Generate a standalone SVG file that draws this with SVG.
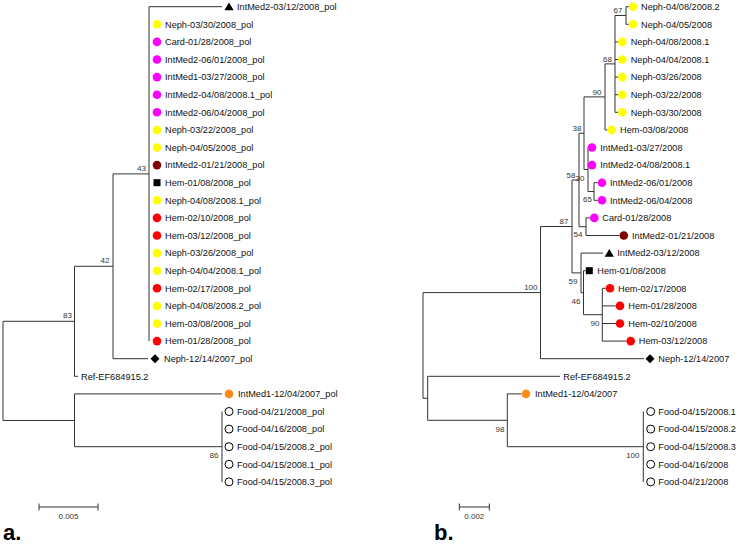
<svg xmlns="http://www.w3.org/2000/svg" width="739" height="544" viewBox="0 0 739 544">
<defs>
<style>
.br{stroke:#333;stroke-width:1;fill:none}
.lf{font-family:"Liberation Sans",Arial,sans-serif;font-size:9.2px;fill:#111}
.bs{font-family:"Liberation Sans",Arial,sans-serif;font-size:8px;fill:#333;text-anchor:end}
.sc{font-family:"Liberation Sans",Arial,sans-serif;font-size:8px;fill:#333;text-anchor:middle}
.pl{font-family:"Liberation Sans",Arial,sans-serif;font-size:22px;font-weight:bold;fill:#000}
.y{fill:#ffff00}.m{fill:#ff00ff}.r{fill:#ff0000}.dr{fill:#800000}.o{fill:#ff8c1a}
.w{fill:#fff;stroke:#000;stroke-width:1}.k{fill:#000}
</style>
</defs>
<rect width="739" height="544" fill="#fff"/>

<!-- ===== Tree a connectors ===== -->
<g id="connectors-a" class="br">
<path d="M3 321.3V420.5M3 321.3H74.5M3 420.5H74.5"/>
<path d="M74.5 266.3V376.3M74.5 266.3H113M74.5 376.3H78"/>
<path d="M113 173.9V358.7M113 173.9H149M113 358.7H148"/>
<path d="M149 6.7V341.1M149 6.7H222"/>
<path d="M74.5 393.9V446.7M74.5 393.9H222M74.5 446.7H222"/>
<path d="M222 411.5V481.9"/>
<path d="M39 507H98M39 503.5V510.5M98 503.5V510.5"/>
</g>

<!-- ===== Tree a internal nodes ===== -->
<g id="a-n43"><text class="bs" x="146" y="171">43</text></g>
<g id="a-n42"><text class="bs" x="109.5" y="263">42</text></g>
<g id="a-n83"><text class="bs" x="72" y="318">83</text></g>
<g id="a-n86"><text class="bs" x="218.5" y="458">86</text></g>

<!-- ===== Tree a leaves ===== -->
<g id="a-l01"><polygon class="k" points="229,2.5 233.6,10.3 224.4,10.3"/><text class="lf" x="237" y="10">IntMed2-03/12/2008_pol</text></g>
<g id="a-l02"><circle class="y" cx="157" cy="24.3" r="4.3"/><text class="lf" x="165" y="27.6">Neph-03/30/2008_pol</text></g>
<g id="a-l03"><circle class="m" cx="157" cy="41.9" r="4.3"/><text class="lf" x="165" y="45.2">Card-01/28/2008_pol</text></g>
<g id="a-l04"><circle class="m" cx="157" cy="59.5" r="4.3"/><text class="lf" x="165" y="62.8">IntMed2-06/01/2008_pol</text></g>
<g id="a-l05"><circle class="m" cx="157" cy="77.1" r="4.3"/><text class="lf" x="165" y="80.4">IntMed1-03/27/2008_pol</text></g>
<g id="a-l06"><circle class="m" cx="157" cy="94.7" r="4.3"/><text class="lf" x="165" y="98">IntMed2-04/08/2008.1_pol</text></g>
<g id="a-l07"><circle class="m" cx="157" cy="112.3" r="4.3"/><text class="lf" x="165" y="115.6">IntMed2-06/04/2008_pol</text></g>
<g id="a-l08"><circle class="y" cx="157" cy="129.9" r="4.3"/><text class="lf" x="165" y="133.2">Neph-03/22/2008_pol</text></g>
<g id="a-l09"><circle class="y" cx="157" cy="147.5" r="4.3"/><text class="lf" x="165" y="150.8">Neph-04/05/2008_pol</text></g>
<g id="a-l10"><circle class="dr" cx="157" cy="165.1" r="4.3"/><text class="lf" x="165" y="168.4">IntMed2-01/21/2008_pol</text></g>
<g id="a-l11"><rect class="k" x="153.5" y="179.2" width="7" height="7"/><text class="lf" x="165" y="186">Hem-01/08/2008_pol</text></g>
<g id="a-l12"><circle class="y" cx="157" cy="200.3" r="4.3"/><text class="lf" x="165" y="203.6">Neph-04/08/2008.1_pol</text></g>
<g id="a-l13"><circle class="r" cx="157" cy="217.9" r="4.3"/><text class="lf" x="165" y="221.2">Hem-02/10/2008_pol</text></g>
<g id="a-l14"><circle class="r" cx="157" cy="235.5" r="4.3"/><text class="lf" x="165" y="238.8">Hem-03/12/2008_pol</text></g>
<g id="a-l15"><circle class="y" cx="157" cy="253.1" r="4.3"/><text class="lf" x="165" y="256.4">Neph-03/26/2008_pol</text></g>
<g id="a-l16"><circle class="y" cx="157" cy="270.7" r="4.3"/><text class="lf" x="165" y="274">Neph-04/04/2008.1_pol</text></g>
<g id="a-l17"><circle class="r" cx="157" cy="288.3" r="4.3"/><text class="lf" x="165" y="291.6">Hem-02/17/2008_pol</text></g>
<g id="a-l18"><circle class="y" cx="157" cy="305.9" r="4.3"/><text class="lf" x="165" y="309.2">Neph-04/08/2008.2_pol</text></g>
<g id="a-l19"><circle class="y" cx="157" cy="323.5" r="4.3"/><text class="lf" x="165" y="326.8">Hem-03/08/2008_pol</text></g>
<g id="a-l20"><circle class="r" cx="157" cy="341.1" r="4.3"/><text class="lf" x="165" y="344.4">Hem-01/28/2008_pol</text></g>
<g id="a-l21"><polygon class="k" points="155,354.2 159.5,358.7 155,363.2 150.5,358.7"/><text class="lf" x="164" y="362">Neph-12/14/2007_pol</text></g>
<g id="a-l22"><text class="lf" x="81" y="379.6">Ref-EF684915.2</text></g>
<g id="a-l23"><circle class="o" cx="229" cy="393.9" r="4.3"/><text class="lf" x="238" y="397.2">IntMed1-12/04/2007_pol</text></g>
<g id="a-l24"><circle class="w" cx="229" cy="411.5" r="4"/><text class="lf" x="237" y="414.8">Food-04/21/2008_pol</text></g>
<g id="a-l25"><circle class="w" cx="229" cy="429.1" r="4"/><text class="lf" x="237" y="432.4">Food-04/16/2008_pol</text></g>
<g id="a-l26"><circle class="w" cx="229" cy="446.7" r="4"/><text class="lf" x="237" y="450">Food-04/15/2008.2_pol</text></g>
<g id="a-l27"><circle class="w" cx="229" cy="464.3" r="4"/><text class="lf" x="237" y="467.6">Food-04/15/2008.1_pol</text></g>
<g id="a-l28"><circle class="w" cx="229" cy="481.9" r="4"/><text class="lf" x="237" y="485.2">Food-04/15/2008.3_pol</text></g>
<g id="a-scale"><text class="sc" x="68.5" y="519">0.005</text></g>
<g id="a-label"><text class="pl" x="3" y="540">a.</text></g>

<!-- ===== Tree b connectors ===== -->
<g id="connectors-b" class="br">
<path d="M423 292.6V398.3M423 292.6H540.5M423 398.3H427.7"/>
<path d="M540.5 226.5V358.7M540.5 226.5H572M540.5 358.7H644"/>
<path d="M572 180V272.9M572 180H579M572 272.9H581"/>
<path d="M579 133.2V226.7M579 133.2H584M579 226.7H586"/>
<path d="M584 96.9V169.5M584 96.9H605M584 169.5H588"/>
<path d="M605 63.9V129.9M605 63.9H615M605 129.9H607.5"/>
<path d="M615 15.5V112.3M615 15.5H626M615 41.9H618M615 59.5H618M615 77.1H618M615 94.7H618M615 112.3H618"/>
<path d="M626 6.7V24.3M626 6.7H629M626 24.3H629"/>
<path d="M588 147.5V191.5M588 191.5H594"/>
<path d="M594 182.7V200.3M594 182.7H597.7M594 200.3H597.7"/>
<path d="M586 217.9V235.5M586 217.9H590M586 235.5H619.5"/>
<path d="M581 253.1V292.7M581 253.1H603M581 292.7H583.5"/>
<path d="M583.5 270.7V314.7M583.5 270.7H585.8M583.5 314.7H602.3"/>
<path d="M602.3 288.3V341.1M602.3 288.3H605.7M602.3 305.9H615.7M602.3 323.5H615.7M602.3 341.1H626.5"/>
<path d="M427.7 376.3V420.3M427.7 376.3H560M427.7 420.3H507.3"/>
<path d="M507.3 393.9V446.7M507.3 393.9H521.5M507.3 446.7H643.3"/>
<path d="M643.3 411.5V481.9"/>
<path d="M459.3 507H489.3M459.3 503.5V510.5M489.3 503.5V510.5"/>
</g>

<!-- ===== Tree b internal nodes ===== -->
<g id="b-n67"><text class="bs" x="622.5" y="13">67</text></g>
<g id="b-n68"><text class="bs" x="612" y="61.5">68</text></g>
<g id="b-n90a"><text class="bs" x="601.5" y="94.5">90</text></g>
<g id="b-n38"><text class="bs" x="581.5" y="130.5">38</text></g>
<g id="b-n58"><text class="bs" x="575.5" y="177.5">58</text></g>
<g id="b-n30"><text class="bs" x="584.5" y="180.5">30</text></g>
<g id="b-n65"><text class="bs" x="592" y="202">65</text></g>
<g id="b-n54"><text class="bs" x="582.5" y="237">54</text></g>
<g id="b-n87"><text class="bs" x="568.5" y="223.5">87</text></g>
<g id="b-n59"><text class="bs" x="577.5" y="284">59</text></g>
<g id="b-n46"><text class="bs" x="580.5" y="304">46</text></g>
<g id="b-n90b"><text class="bs" x="599.5" y="326">90</text></g>
<g id="b-n100a"><text class="bs" x="537.5" y="290">100</text></g>
<g id="b-n98"><text class="bs" x="504.5" y="432">98</text></g>
<g id="b-n100b"><text class="bs" x="639.5" y="458">100</text></g>

<!-- ===== Tree b leaves ===== -->
<g id="b-l01"><circle class="y" cx="633" cy="6.7" r="4.3"/><text class="lf" x="641" y="10">Neph-04/08/2008.2</text></g>
<g id="b-l02"><circle class="y" cx="633" cy="24.3" r="4.3"/><text class="lf" x="641" y="27.6">Neph-04/05/2008</text></g>
<g id="b-l03"><circle class="y" cx="622.3" cy="41.9" r="4.3"/><text class="lf" x="630.7" y="45.2">Neph-04/08/2008.1</text></g>
<g id="b-l04"><circle class="y" cx="622.3" cy="59.5" r="4.3"/><text class="lf" x="630.7" y="62.8">Neph-04/04/2008.1</text></g>
<g id="b-l05"><circle class="y" cx="622.3" cy="77.1" r="4.3"/><text class="lf" x="630.7" y="80.4">Neph-03/26/2008</text></g>
<g id="b-l06"><circle class="y" cx="622.3" cy="94.7" r="4.3"/><text class="lf" x="630.7" y="98">Neph-03/22/2008</text></g>
<g id="b-l07"><circle class="y" cx="622.3" cy="112.3" r="4.3"/><text class="lf" x="630.7" y="115.6">Neph-03/30/2008</text></g>
<g id="b-l08"><circle class="y" cx="611.7" cy="129.9" r="4.3"/><text class="lf" x="620" y="133.2">Hem-03/08/2008</text></g>
<g id="b-l09"><circle class="m" cx="592" cy="147.5" r="4.3"/><text class="lf" x="600.3" y="150.8">IntMed1-03/27/2008</text></g>
<g id="b-l10"><circle class="m" cx="592" cy="165.1" r="4.3"/><text class="lf" x="600.3" y="168.4">IntMed2-04/08/2008.1</text></g>
<g id="b-l11"><circle class="m" cx="602" cy="182.7" r="4.3"/><text class="lf" x="610" y="186">IntMed2-06/01/2008</text></g>
<g id="b-l12"><circle class="m" cx="602" cy="200.3" r="4.3"/><text class="lf" x="610" y="203.6">IntMed2-06/04/2008</text></g>
<g id="b-l13"><circle class="m" cx="594.3" cy="217.9" r="4.3"/><text class="lf" x="602.3" y="221.2">Card-01/28/2008</text></g>
<g id="b-l14"><circle class="dr" cx="623.8" cy="235.5" r="4.3"/><text class="lf" x="632" y="238.8">IntMed2-01/21/2008</text></g>
<g id="b-l15"><polygon class="k" points="609.3,248.9 613.9,256.7 604.7,256.7"/><text class="lf" x="617.3" y="256.4">IntMed2-03/12/2008</text></g>
<g id="b-l16"><rect class="k" x="585.8" y="267.2" width="7" height="7"/><text class="lf" x="597.3" y="274">Hem-01/08/2008</text></g>
<g id="b-l17"><circle class="r" cx="610" cy="288.3" r="4.3"/><text class="lf" x="618" y="291.6">Hem-02/17/2008</text></g>
<g id="b-l18"><circle class="r" cx="620" cy="305.9" r="4.3"/><text class="lf" x="628.3" y="309.2">Hem-01/28/2008</text></g>
<g id="b-l19"><circle class="r" cx="620" cy="323.5" r="4.3"/><text class="lf" x="628.3" y="326.8">Hem-02/10/2008</text></g>
<g id="b-l20"><circle class="r" cx="630.7" cy="341.1" r="4.3"/><text class="lf" x="638.8" y="344.4">Hem-03/12/2008</text></g>
<g id="b-l21"><polygon class="k" points="650,354.2 654.5,358.7 650,363.2 645.5,358.7"/><text class="lf" x="658.3" y="362">Neph-12/14/2007</text></g>
<g id="b-l22"><text class="lf" x="563.3" y="379.6">Ref-EF684915.2</text></g>
<g id="b-l23"><circle class="o" cx="526" cy="393.9" r="4.3"/><text class="lf" x="535" y="397.2">IntMed1-12/04/2007</text></g>
<g id="b-l24"><circle class="w" cx="650.7" cy="411.5" r="4"/><text class="lf" x="658.3" y="414.8">Food-04/15/2008.1</text></g>
<g id="b-l25"><circle class="w" cx="650.7" cy="429.1" r="4"/><text class="lf" x="658.3" y="432.4">Food-04/15/2008.2</text></g>
<g id="b-l26"><circle class="w" cx="650.7" cy="446.7" r="4"/><text class="lf" x="658.3" y="450">Food-04/15/2008.3</text></g>
<g id="b-l27"><circle class="w" cx="650.7" cy="464.3" r="4"/><text class="lf" x="658.3" y="467.6">Food-04/16/2008</text></g>
<g id="b-l28"><circle class="w" cx="650.7" cy="481.9" r="4"/><text class="lf" x="658.3" y="485.2">Food-04/21/2008</text></g>
<g id="b-scale"><text class="sc" x="474.3" y="519">0.002</text></g>
<g id="b-label"><text class="pl" x="434" y="540">b.</text></g>
</svg>
